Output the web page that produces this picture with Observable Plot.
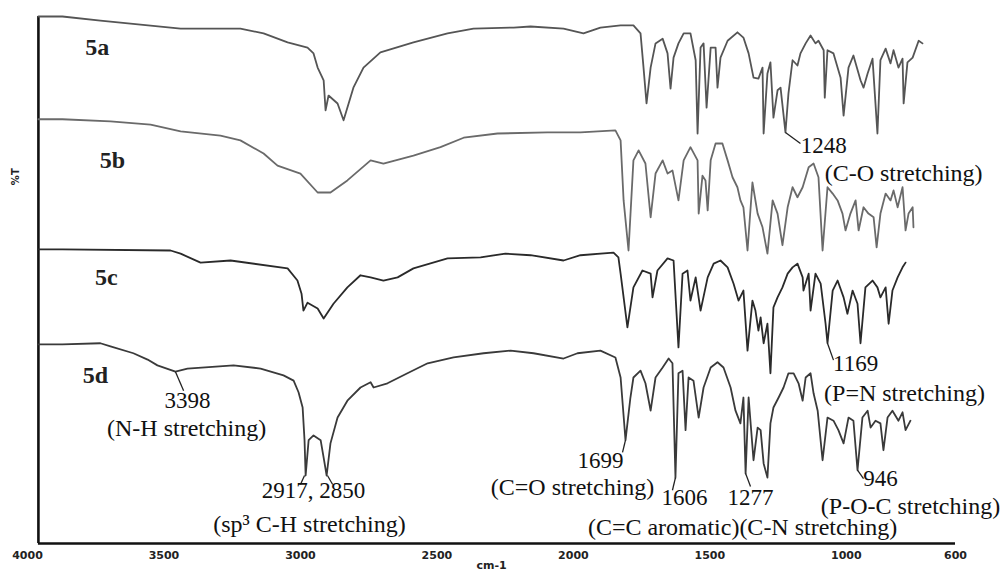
<!DOCTYPE html>
<html>
<head>
<meta charset="utf-8">
<script src="https://cdn.jsdelivr.net/npm/d3@7"></script>
<script src="https://cdn.jsdelivr.net/npm/@observablehq/plot@0.6"></script>
<style>
  html, body { margin: 0; padding: 0; background: #fff; }
</style>
</head>
<body>
<div id="chart"></div>
<script>
// x-axis tick values (cm-1)
const xTicks = [4000, 3500, 3000, 2500, 2000, 1500, 1000, 600];

// spectra: [wavenumber cm-1, offset %T]
const spec5a = [[3960,100.0],[3872,100.0],[3733,99.2],[3439,97.7],[3220,97.7],[3135,96.8],[3047,95.1],[2974,94.1],[2952,93.0],[2937,90.3],[2915,87.9],[2908,82.2],[2897,85.0],[2864,83.5],[2842,80.3],[2806,86.5],[2769,90.3],[2707,93.2],[2586,95.1],[2461,96.8],[2366,97.7],[2219,97.9],[2157,98.1],[2036,97.7],[1963,96.8],[1901,97.9],[1827,98.3],[1780,98.3],[1754,96.8],[1743,90.3],[1732,83.5],[1717,90.3],[1699,94.9],[1673,95.8],[1655,93.0],[1644,86.3],[1633,92.2],[1615,94.9],[1596,96.8],[1571,96.8],[1552,91.7],[1545,77.8],[1534,94.1],[1523,94.9],[1512,82.7],[1497,94.1],[1479,94.1],[1472,86.5],[1461,92.2],[1435,95.4],[1399,97.0],[1377,96.0],[1358,93.0],[1340,88.4],[1322,88.2],[1307,90.3],[1303,77.8],[1289,89.2],[1278,91.3],[1267,80.8],[1252,86.0],[1241,86.5],[1223,78.0],[1212,85.4],[1197,91.7],[1179,90.7],[1168,93.0],[1149,94.9],[1131,96.4],[1113,94.9],[1102,95.4],[1083,93.6],[1079,84.6],[1069,93.6],[1047,93.0],[1021,88.4],[1010,81.2],[992,90.3],[974,92.6],[948,87.9],[937,86.5],[922,89.2],[904,92.0],[886,77.8],[875,91.7],[856,93.9],[838,91.1],[827,93.6],[809,90.3],[794,92.0],[790,83.5],[776,91.3],[757,92.2],[735,95.4],[721,94.9]];

const spec5b = [[3960,80.5],[3872,80.5],[3696,80.1],[3549,79.5],[3439,78.2],[3293,77.4],[3220,76.5],[3135,74.0],[3084,71.7],[3000,70.2],[2937,66.6],[2890,66.6],[2828,68.9],[2743,72.7],[2696,72.1],[2586,73.6],[2487,75.2],[2402,77.0],[2278,77.8],[2095,78.0],[1974,78.0],[1846,78.4],[1827,76.5],[1816,65.1],[1798,55.6],[1780,72.7],[1761,74.6],[1736,72.1],[1717,61.9],[1699,70.2],[1673,72.7],[1655,70.2],[1637,70.8],[1615,65.1],[1596,72.7],[1571,75.2],[1545,72.7],[1541,62.6],[1527,69.8],[1516,68.9],[1508,63.2],[1497,72.7],[1479,75.9],[1454,75.9],[1435,72.7],[1417,69.5],[1399,67.6],[1388,65.1],[1377,63.8],[1362,55.6],[1344,68.5],[1325,62.6],[1307,60.0],[1289,55.0],[1270,65.1],[1252,62.6],[1234,56.6],[1215,63.8],[1197,67.6],[1179,65.7],[1160,67.6],[1138,71.4],[1120,72.1],[1102,69.5],[1087,55.6],[1069,67.6],[1050,66.4],[1032,65.1],[1014,62.6],[1003,59.4],[985,62.6],[966,65.1],[955,59.4],[937,63.8],[919,62.6],[900,61.9],[889,56.2],[875,62.6],[856,66.4],[838,65.1],[827,67.0],[812,63.8],[794,67.6],[783,59.4],[772,62.6],[757,63.8],[754,60.0]];

const spec5c = [[3960,55.8],[3872,55.8],[3476,55.6],[3439,55.0],[3366,53.3],[3256,53.7],[3047,52.2],[3011,49.9],[2996,47.4],[2989,44.2],[2974,45.7],[2937,44.6],[2915,42.7],[2879,45.5],[2828,48.6],[2780,50.9],[2743,50.5],[2696,49.9],[2644,50.5],[2586,52.2],[2461,54.1],[2340,54.3],[2249,55.0],[2157,54.7],[2036,53.7],[1974,54.7],[1853,55.2],[1835,54.3],[1827,51.2],[1802,41.0],[1780,48.6],[1747,51.8],[1717,51.2],[1710,46.7],[1692,51.8],[1655,54.1],[1633,53.7],[1615,37.2],[1600,51.2],[1582,51.8],[1571,46.1],[1552,50.5],[1534,44.2],[1508,50.5],[1486,53.1],[1461,53.7],[1435,52.4],[1413,49.3],[1395,46.1],[1377,48.0],[1362,36.6],[1344,46.1],[1333,44.2],[1322,40.4],[1314,42.9],[1303,38.0],[1289,41.7],[1278,32.3],[1267,44.8],[1252,46.7],[1234,48.6],[1215,51.2],[1197,52.4],[1179,53.1],[1160,50.5],[1157,48.0],[1138,51.2],[1131,44.2],[1113,51.2],[1094,49.3],[1076,41.7],[1069,38.0],[1050,48.0],[1032,49.9],[1010,46.7],[996,43.6],[977,48.0],[959,45.5],[948,38.0],[930,48.6],[904,49.9],[886,48.6],[875,46.7],[856,48.6],[845,41.7],[831,48.0],[812,50.5],[794,52.4],[783,53.3]];

const spec5d = [[3960,37.8],[3872,37.8],[3733,38.0],[3696,37.4],[3612,36.1],[3560,34.9],[3524,33.8],[3458,32.6],[3414,33.2],[3245,33.8],[3146,33.2],[3062,31.9],[3025,30.9],[3007,28.7],[2992,25.8],[2985,19.6],[2981,12.9],[2970,19.6],[2952,20.5],[2926,19.6],[2915,16.3],[2904,12.9],[2890,19.0],[2864,23.9],[2828,27.1],[2780,29.6],[2743,30.6],[2732,29.6],[2681,30.4],[2608,32.3],[2534,34.2],[2439,35.3],[2329,36.1],[2230,36.6],[2146,36.1],[2036,35.1],[1985,36.1],[1901,36.6],[1846,35.3],[1827,31.5],[1809,19.6],[1791,27.7],[1780,31.5],[1754,32.8],[1736,30.4],[1717,25.2],[1699,31.5],[1673,33.4],[1651,35.1],[1637,34.2],[1626,12.5],[1615,32.3],[1600,32.8],[1589,21.5],[1578,31.5],[1560,30.9],[1541,23.9],[1523,29.6],[1497,33.4],[1472,34.4],[1450,33.4],[1424,29.6],[1406,25.2],[1388,22.8],[1377,27.7],[1369,13.3],[1358,27.7],[1340,15.8],[1325,22.0],[1314,21.5],[1303,15.2],[1289,12.5],[1278,22.8],[1267,25.8],[1248,27.7],[1230,29.6],[1212,32.3],[1193,32.3],[1175,30.4],[1160,27.1],[1149,31.5],[1131,32.3],[1120,28.5],[1105,25.2],[1087,15.8],[1069,23.9],[1047,23.3],[1029,21.5],[1010,19.0],[992,23.9],[974,23.3],[959,13.9],[941,23.9],[922,25.2],[911,22.0],[893,23.3],[875,22.8],[864,17.7],[849,23.9],[831,25.2],[809,23.3],[794,24.9],[783,21.5],[765,23.3]];

// sample names [label, wn, T]
const sampleLabels = [["5a",3744,94.1],["5b",3689,72.7],["5c",3711,50.5],["5d",3751,31.9]];

// peak numbers [text, wn, T]
const peakNumbers = [["3398",3414,27.1],["2917, 2850",2952,10.1],["1699",1901,15.8],["1606",1593,8.7],["1277",1351,8.7],["946",875,12.3],["1169",966,34.2],["1248",1083,75.5]];

// assignments [text, wn, T]
const assignments = [["(N-H stretching)",3417,21.8],["(sp\u00B3 C-H stretching)",2967,3.6],["(C=O stretching)",2003,10.6],["(C=C aromatic)(C-N stretching)",1380,3.0],["(P-O-C stretching)",765,7.0],["(P=N stretching)",787,28.5],["(C-O stretching)",790,70.2]];

// leader lines [wn1, T1, wn2, T2]
const leaders = [[3458,32.6,3428,29.0],[2985,12.9,3000,11.2],[2901,12.9,2882,11.2],[1809,19.6,1820,17.3],[1626,12.5,1637,10.1],[1369,13.3,1351,10.8],[959,13.9,937,12.3],[1069,38.0,1047,34.8],[1223,78.0,1168,75.9]];

const frameStart = 3960, frameEnd = 600;

const serif = "'Liberation Serif', 'Times New Roman', serif";

const chart = Plot.plot({
  width: 1008,
  height: 574,
  marginLeft: 27,
  marginRight: 53,
  marginTop: 16,
  marginBottom: 31,
  style: {fontFamily: "'DejaVu Sans', sans-serif", fontSize: "11px", fontWeight: "bold", color: "#222", background: "#fff"},
  x: {domain: [4000, 600]},
  y: {domain: [0, 100], axis: null},
  marks: [
    Plot.ruleX([frameStart], {y1: 0, y2: 100, stroke: "#111", strokeWidth: 2.6}),
    Plot.ruleY([0], {x1: frameStart, x2: frameEnd, stroke: "#111", strokeWidth: 2.6}),
    Plot.axisX({ticks: xTicks, tickSize: 0, tickPadding: 8, tickFormat: d => String(d), label: null, fill: "#222"}),
    Plot.line(spec5a, {x: d => d[0], y: d => d[1], stroke: "#555", strokeWidth: 1.8}),
    Plot.line(spec5b, {x: d => d[0], y: d => d[1], stroke: "#6a6a6a", strokeWidth: 1.8}),
    Plot.line(spec5c, {x: d => d[0], y: d => d[1], stroke: "#2a2a2a", strokeWidth: 1.8}),
    Plot.line(spec5d, {x: d => d[0], y: d => d[1], stroke: "#3a3a3a", strokeWidth: 1.8}),
    Plot.link(leaders, {x1: d => d[0], y1: d => d[1], x2: d => d[2], y2: d => d[3], stroke: "#222", strokeWidth: 1.3}),
    Plot.text(sampleLabels, {x: d => d[1], y: d => d[2], text: d => d[0], fontFamily: serif, fontSize: 24, fontWeight: "bold", fill: "#222"}),
    Plot.text(peakNumbers, {x: d => d[1], y: d => d[2], text: d => d[0], fontFamily: serif, fontSize: 23, fontWeight: "normal", fill: "#111"}),
    Plot.text(assignments, {x: d => d[1], y: d => d[2], text: d => d[0], fontFamily: serif, fontSize: 24, fontWeight: "normal", fill: "#111"}),
    Plot.text(["%T"], {x: 4000, y: 69.6, dx: -12, rotate: -90, fontSize: 10, fontWeight: "bold", fill: "#222"}),
    Plot.text(["cm-1"], {frameAnchor: "bottom", dy: 25, fontSize: 11, fontWeight: "bold", fill: "#222"})
  ]
});
document.getElementById("chart").append(chart);
</script>
</body>
</html>
